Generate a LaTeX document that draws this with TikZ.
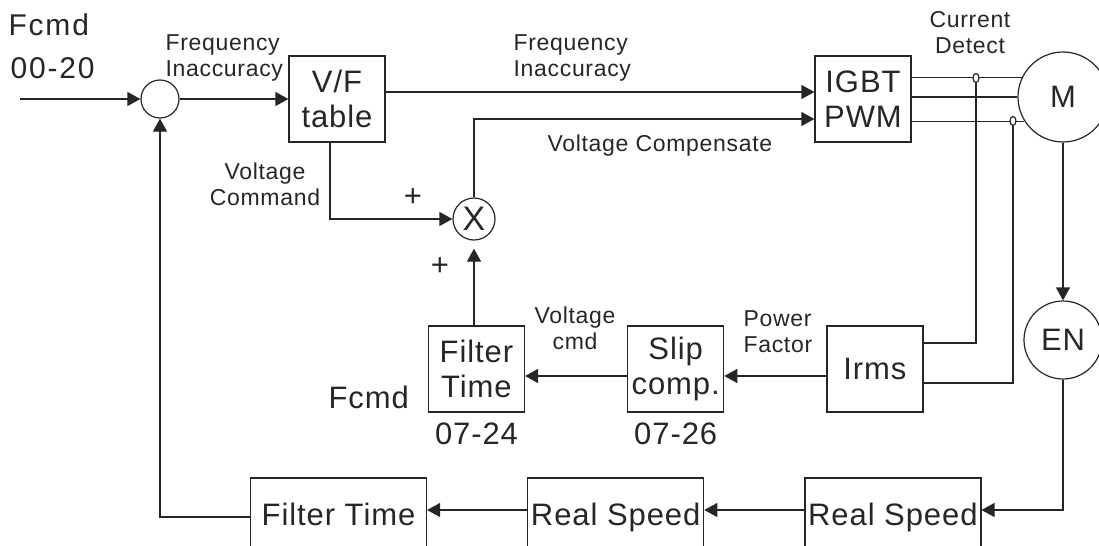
\documentclass[tikz,border=0pt]{standalone}
\usepackage{fontspec}
\setmainfont{Liberation Sans}[LetterSpace=3]
\usepackage{tikz}
\usetikzlibrary{arrows.meta,positioning,shapes.geometric}

\newcommand{\bigtxt}{\fontsize{15.5}{17.5}\selectfont}
\newcommand{\midtxt}{\fontsize{15}{17}\selectfont\addfontfeature{LetterSpace=6}}
\newcommand{\smalltxt}{\fontsize{11.5}{13}\selectfont}

\begin{document}
\begin{tikzpicture}[
  x=0.5pt, y=-0.5pt,
  color=black!85, line width=0.6pt,
  node distance=5pt and 51pt,
  box/.style={draw, align=center, inner sep=0pt, font=\bigtxt, minimum width=48pt, minimum height=43pt},
  wide/.style={draw, inner sep=0pt, font=\bigtxt, minimum width=88pt, minimum height=36pt, text depth=0pt},
  sumcirc/.style={draw, circle, inner sep=0pt, font=\bigtxt},
  sensor/.style={draw, ellipse, fill=white, inner sep=0pt, minimum width=3pt, minimum height=4.5pt},
  lbl/.style={inner sep=0pt, font=\smalltxt, align=left},
  arrow/.style={-{Triangle[length=6.5pt,width=7pt]}}
]
\useasboundingbox (0,0) rectangle (1099,546);
\clip (0,0) rectangle (1099,546);

% forward path
\node[anchor=base west, inner sep=0pt, font=\midtxt] (fcmdA) at (8,35) {Fcmd};
\node[anchor=base west, inner sep=0pt, font=\midtxt] (parA) at (10,78) {00-20};
\coordinate (in) at (20,99);
\node[sumcirc, minimum size=19pt] (sum) at (160,99) {};
\node[box] (vf) at (337,99) {V/F\\table};
\node[box] (igbt) at (863,99) {IGBT\\PWM};
\node[sumcirc, minimum size=45pt] (motor) at (1063,97) {M};
\node[sumcirc, minimum size=21pt, font=\fontsize{17}{19}\selectfont] (mult) at (474,219) {X};
\node[lbl, anchor=west] (freqA) at (165,58) {Frequency\\Inaccuracy};
\node[lbl, anchor=west] (freqB) at (513,58) {Frequency\\Inaccuracy};
\node[lbl, anchor=base west] (vcomp) at (547,151) {Voltage Compensate};
\node[lbl, align=center] (vcmd) at (265,184) {Voltage\\Command};
\node[lbl, font=\bigtxt] (plusA) at (413,198) {+};
\node[lbl, font=\bigtxt] (plusB) at (440,267) {+};
\node[lbl, align=center] (cdet) at (970,33) {Current\\Detect};

% compensation path
\node[box] (filt) at (476.5,369) {Filter\\Time};
\node[box, right=of filt] (slip) {Slip\\comp.};
\node[box, right=of slip] (irms) {Irms};
\node[sumcirc, minimum size=39pt] (en) at (1063,340) {EN};
\node[below=of filt, inner sep=0pt, font=\bigtxt] (parB) {07-24};
\node[below=of slip, inner sep=0pt, font=\bigtxt] (parC) {07-26};
\node[lbl, align=center] (vcmdB) at (575,328) {Voltage\\cmd};
\node[lbl, anchor=west] (pf) at (743,331.5) {Power\\Factor};
\node[anchor=base west, inner sep=0pt, font=\bigtxt] (fcmdB) at (328,408) {Fcmd};

% speed feedback
\node[wide] (filtB) at (338.5,514) {Filter Time};
\node[wide, right=50pt of filtB] (speedM) {Real Speed};
\node[wide, right=50pt of speedM] (speedR) {Real Speed};

\draw[arrow] (in) -- (sum);
\draw[arrow] (sum) -- (vf);
\draw[arrow] ([yshift=3.5pt]vf.east) -- ([yshift=3.5pt]igbt.west);
\draw[arrow] ([xshift=-3.5pt]vf.south) |- (mult);
\draw[arrow] (mult) |- ([yshift=-10pt]igbt.west);
\draw[arrow, shorten >=4pt] (filt.north -| mult) -- (mult);
\draw[arrow] ([yshift=-3.5pt]slip.west) -- ([yshift=-3.5pt]filt.east);
\draw[arrow] ([yshift=-3.5pt]irms.west) -- ([yshift=-3.5pt]slip.east);
\foreach \a in {155,180,212}
  \draw (motor.\a -| igbt.east) -- (motor.\a);
\node[sensor] (ctA) at (976,78) {};
\node[sensor] (ctB) at (1013,121) {};
\draw (ctA.south) |- ([yshift=13pt]irms.east);
\draw (ctB.south) |- ([yshift=-7pt]irms.east);
\draw[arrow] (motor) -- (en);
\draw[arrow] (en) |- ([yshift=2pt]speedR.east);
\draw[arrow] ([yshift=2pt]speedR.west) -- ([yshift=2pt]speedM.east);
\draw[arrow] ([yshift=2pt]speedM.west) -- ([yshift=2pt]filtB.east);
\draw[arrow] ([yshift=-1.5pt]filtB.west) -| (sum);
\end{tikzpicture}
\end{document}
